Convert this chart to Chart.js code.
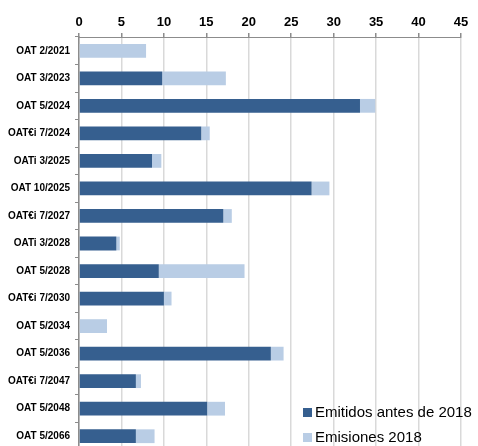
<!DOCTYPE html>
<html>
<head>
<meta charset="utf-8">
<script src="https://cdn.jsdelivr.net/npm/chart.js@4/dist/chart.umd.min.js"></script>
<style>
  html, body { margin: 0; padding: 0; background: #fff; overflow: hidden; }
  #wrap { position: relative; width: 478px; height: 461px; }
</style>
</head>
<body>
<div id="wrap"><canvas id="chart"></canvas></div>
<script>
const bonos = ['OAT 2/2021', 'OAT 3/2023', 'OAT 5/2024', 'OAT€i 7/2024', 'OATi 3/2025',
  'OAT 10/2025', 'OAT€i 7/2027', 'OATi 3/2028', 'OAT 5/2028', 'OAT€i 7/2030',
  'OAT 5/2034', 'OAT 5/2036', 'OAT€i 7/2047', 'OAT 5/2048', 'OAT 5/2066'];
const antes2018 = [0, 9.8, 33.1, 14.4, 8.6, 27.4, 17.0, 4.4, 9.4, 10.0, 0, 22.6, 6.7, 15.1, 6.7];
const emisiones2018 = [7.9, 7.5, 1.8, 1.0, 1.1, 2.1, 1.0, 0.4, 10.1, 0.9, 3.3, 1.5, 0.6, 2.1, 2.2];
const ticksX = [0, 5, 10, 15, 20, 25, 30, 35, 40, 45];

const oscuro = '#365f8f';
const claro = '#b9cde5';

// leyenda dibujada dentro del área del gráfico, abajo a la derecha
const leyendaDentro = {
  id: 'leyendaDentro',
  afterDraw(chart) {
    const ctx = chart.ctx;
    ctx.save();
    ctx.font = '15px "Liberation Sans", Arial, sans-serif';
    ctx.textBaseline = 'middle';
    chart.data.datasets.forEach((ds, i) => {
      const y = 413 + i * 25;
      ctx.fillStyle = ds.backgroundColor;
      ctx.fillRect(303, y - 5, 9, 9);
      ctx.fillStyle = '#000';
      ctx.fillText(ds.label, 315, y);
    });
    ctx.restore();
  }
};

new Chart(document.getElementById('chart'), {
  type: 'bar',
  data: {
    labels: bonos,
    datasets: [
      { label: 'Emitidos antes de 2018', data: antes2018, backgroundColor: oscuro,
        barPercentage: 0.5, categoryPercentage: 1 },
      { label: 'Emisiones 2018', data: emisiones2018, backgroundColor: claro,
        barPercentage: 0.5, categoryPercentage: 1 }
    ]
  },
  options: {
    indexAxis: 'y',
    responsive: true,
    maintainAspectRatio: false,
    animation: false,
    layout: { padding: { left: 0, right: 17, top: 0, bottom: 0 } },
    plugins: {
      legend: { display: false },
      tooltip: { enabled: false }
    },
    scales: {
      x: {
        position: 'top',
        stacked: true,
        min: 0,
        max: 45,
        afterBuildTicks: (scale) => { scale.ticks = ticksX.map(v => ({ value: v })); },
        afterFit: (scale) => { scale.height = 37; },
        grid: { color: '#d9d9d9', lineWidth: 1.5, tickColor: '#8c8c8c', tickLength: 4 },
        border: { color: '#8c8c8c', width: 1 },
        ticks: {
          color: '#000',
          padding: 3,
          font: { family: '"Liberation Sans", Arial, sans-serif', size: 13, weight: 'bold' }
        }
      },
      y: {
        stacked: true,
        afterFit: (scale) => { scale.width = 79; },
        grid: { drawOnChartArea: false, tickColor: '#8c8c8c', tickLength: 4, offset: true },
        border: { color: '#8c8c8c', width: 1.5 },
        ticks: {
          color: '#000',
          padding: 5,
          font: { family: '"Liberation Sans", Arial, sans-serif', size: 10, weight: 'bold' }
        }
      }
    }
  },
  plugins: [leyendaDentro]
});
</script>
</body>
</html>
